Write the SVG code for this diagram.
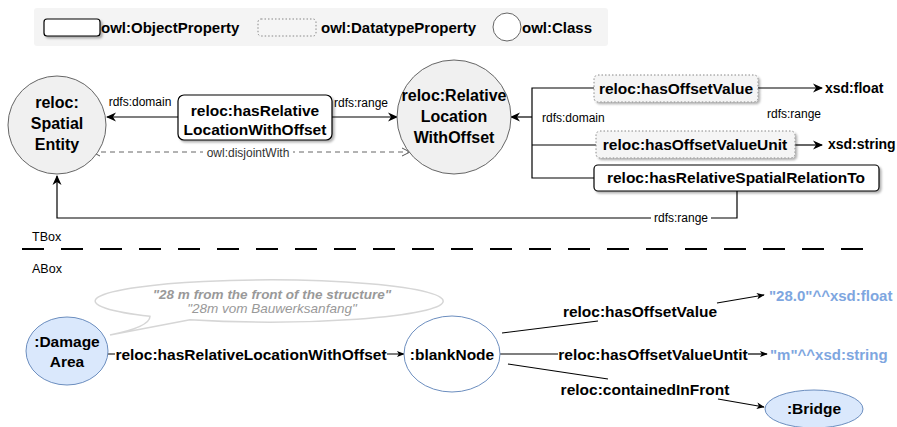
<svg xmlns="http://www.w3.org/2000/svg" width="897" height="427" viewBox="0 0 897 427">
<style>
text{font-family:"Liberation Sans",Arial,sans-serif;fill:#000}
.b{font-weight:bold;font-size:15.5px}
.cb{font-weight:bold;font-size:16px}
.lb{font-weight:bold;font-size:15px}
.xs{font-weight:bold;font-size:14px}
.e{font-size:12px}
.c{text-anchor:middle}
.g{fill:#999}
.dk{fill:#333}
.cls{fill:#f0f0f0;stroke:#666;stroke-width:1}
.op{fill:#fff;stroke:#000;stroke-width:1.2}
.dp{fill:#f5f5f5;stroke:#888;stroke-width:1;stroke-dasharray:1.5 2}
.ln{fill:none;stroke:#000;stroke-width:1.2}
.ind{fill:#dae8fc;stroke:#6c8ebf;stroke-width:1}
.lit{fill:#7ea6e0;font-weight:bold;font-size:15px}
.sh{filter:url(#sh)}
</style>
<defs>
<filter id="sh" x="-10%" y="-20%" width="130%" height="160%"><feDropShadow dx="2" dy="2" stdDeviation="0.8" flood-color="#000" flood-opacity="0.3"/></filter>
<marker id="a" viewBox="0 0 10 10" refX="9" refY="5" markerWidth="10" markerHeight="10" markerUnits="userSpaceOnUse" orient="auto"><path d="M0,0.5 L10,5 L0,9.5 L3,5 Z" fill="#000"/></marker>
<marker id="s" viewBox="0 0 10 10" refX="9" refY="5" markerWidth="8" markerHeight="8" markerUnits="userSpaceOnUse" orient="auto"><path d="M0,1 L10,5 L0,9 L2.5,5 Z" fill="#000"/></marker>
<marker id="o" viewBox="0 0 10 10" refX="9" refY="5" markerWidth="10" markerHeight="10" markerUnits="userSpaceOnUse" orient="auto-start-reverse"><path d="M1,1 L9,5 L1,9" fill="none" stroke="#555" stroke-width="1"/></marker>
</defs>

<g id="legend">
<rect x="34" y="8" width="574" height="38" rx="3" fill="#f4f4f4"/>
<rect x="44" y="19" width="56" height="17" rx="3" class="op sh"/>
<text x="101" y="33" class="lb">owl:ObjectProperty</text>
<rect x="258" y="19" width="58" height="17" rx="3" class="dp"/>
<text x="321" y="33" class="lb">owl:DatatypeProperty</text>
<circle cx="507" cy="27" r="14" fill="#fff" stroke="#666"/>
<text x="522" y="33" class="lb">owl:Class</text>
</g>

<g id="connectors">
<line x1="178" y1="117" x2="107" y2="117" class="ln" marker-end="url(#a)"/>
<text x="140" y="106" class="e c">rdfs:domain</text>
<line x1="332" y1="117" x2="397" y2="117" class="ln" marker-end="url(#a)"/>
<text x="361" y="107" class="e c">rdfs:range</text>
<line x1="92" y1="152" x2="410" y2="152" fill="none" stroke="#666" stroke-dasharray="5 4" marker-start="url(#o)" marker-end="url(#o)"/>
<rect x="203" y="146" width="90" height="13" fill="#fff"/>
<text x="248" y="157" class="e c dk">owl:disjointWith</text>
<polyline points="594,88 532,88 532,178 594,178" class="ln"/>
<line x1="532" y1="145" x2="596" y2="145" class="ln"/>
<line x1="532" y1="117" x2="511" y2="117" class="ln" marker-end="url(#a)"/>
<text x="542" y="122" class="e">rdfs:domain</text>
<line x1="758" y1="88" x2="822" y2="88" class="ln" marker-end="url(#a)"/>
<line x1="795" y1="145" x2="822" y2="145" class="ln" marker-end="url(#a)"/>
<text x="767" y="118" class="e">rdfs:range</text>
<polyline points="737,191 737,218 57,218 57,176" class="ln" marker-end="url(#a)"/>
<rect x="651" y="211" width="60" height="14" fill="#fff"/>
<text x="681" y="222" class="e c">rdfs:range</text>

<line x1="108" y1="354" x2="404" y2="354" class="ln" stroke-width="1" marker-end="url(#s)"/>
<line x1="502" y1="333" x2="598" y2="321" class="ln" stroke-width="1"/>
<line x1="717" y1="303" x2="764" y2="295" class="ln" stroke-width="1" marker-end="url(#s)"/>
<line x1="500" y1="354" x2="558" y2="354" class="ln" stroke-width="1"/>
<line x1="748" y1="354" x2="767" y2="354" class="ln" stroke-width="1" marker-end="url(#s)"/>
<line x1="508" y1="364" x2="608" y2="379" class="ln" stroke-width="1"/>
<line x1="718" y1="399" x2="764" y2="407" class="ln" stroke-width="1" marker-end="url(#s)"/>
<rect x="115" y="344" width="272" height="20" fill="#fff"/>
<text x="251" y="360" class="b c">reloc:hasRelativeLocationWithOffset</text>
<text x="640" y="317" class="b c">reloc:hasOffsetValue</text>
<text x="653" y="360" class="b c">reloc:hasOffsetValueUntit</text>
<text x="645" y="395" class="b c">reloc:containedInFront</text>
</g>

<g id="spatialEntity">
<circle cx="57" cy="125" r="49" class="cls"/>
<text x="57" y="108" class="cb c">reloc:</text>
<text x="57" y="129" class="cb c">Spatial</text>
<text x="57" y="150" class="cb c">Entity</text>
</g>

<g id="hasRelativeLocationWithOffset">
<rect x="178" y="95" width="154" height="45" rx="6" class="op sh"/>
<text x="255" y="116" class="b c">reloc:hasRelative</text>
<text x="255" y="135" class="b c">LocationWithOffset</text>
</g>

<g id="relativeLocationWithOffset">
<circle cx="454" cy="117" r="57" class="cls"/>
<text x="454" y="101" class="cb c">reloc:Relative</text>
<text x="454" y="122" class="cb c">Location</text>
<text x="454" y="143" class="cb c">WithOffset</text>
</g>

<g id="hasOffsetValue">
<rect x="594" y="75" width="164" height="27" rx="4" class="dp sh"/>
<text x="676" y="94" class="b c">reloc:hasOffsetValue</text>
</g>
<g id="xsdFloat"><text x="825" y="93" class="xs">xsd:float</text></g>

<g id="hasOffsetValueUnit">
<rect x="596" y="131" width="199" height="27" rx="4" class="dp sh"/>
<text x="695" y="150" class="b c">reloc:hasOffsetValueUnit</text>
</g>
<g id="xsdString"><text x="828" y="149" class="xs">xsd:string</text></g>

<g id="hasRelativeSpatialRelationTo">
<rect x="594" y="165" width="285" height="26" rx="4" class="op sh"/>
<text x="736" y="183" class="b c">reloc:hasRelativeSpatialRelationTo</text>
</g>

<g id="boxSeparator">
<text x="32" y="241" font-size="12.5">TBox</text>
<line x1="22" y1="249" x2="870" y2="249" stroke="#000" stroke-width="2" stroke-dasharray="22 17"/>
<text x="32" y="273" font-size="12.5">ABox</text>
</g>

<g id="note">
<path d="M190,319.7 A174 21 0 1 0 150,316.3 Q150,327 110,335 Z" fill="#fff" stroke="#d6d6d6" stroke-width="1.5"/>
<text x="272" y="299" class="c g" font-size="13.5" font-weight="bold" font-style="italic">"28 m from the front of the structure"</text>
<text x="272" y="313" class="c g" font-size="13.5" font-style="italic">"28m vom Bauwerksanfang"</text>
</g>

<g id="damageArea">
<ellipse cx="67" cy="351" rx="41" ry="34" class="ind"/>
<text x="67" y="347" class="b c">:Damage</text>
<text x="67" y="367" class="b c">Area</text>
</g>

<g id="blankNode">
<ellipse cx="452" cy="354" rx="48" ry="38" fill="#fff" stroke="#6c8ebf"/>
<text x="452" y="360" class="b c">:blankNode</text>
</g>

<g id="lit1"><text x="769" y="301" class="lit">"28.0"^^xsd:float</text></g>
<g id="lit2"><text x="770" y="360" class="lit">"m"^^xsd:string</text></g>

<g id="bridge">
<ellipse cx="814" cy="409" rx="49" ry="19" class="ind"/>
<text x="814" y="414" class="b c">:Bridge</text>
</g>
</svg>
